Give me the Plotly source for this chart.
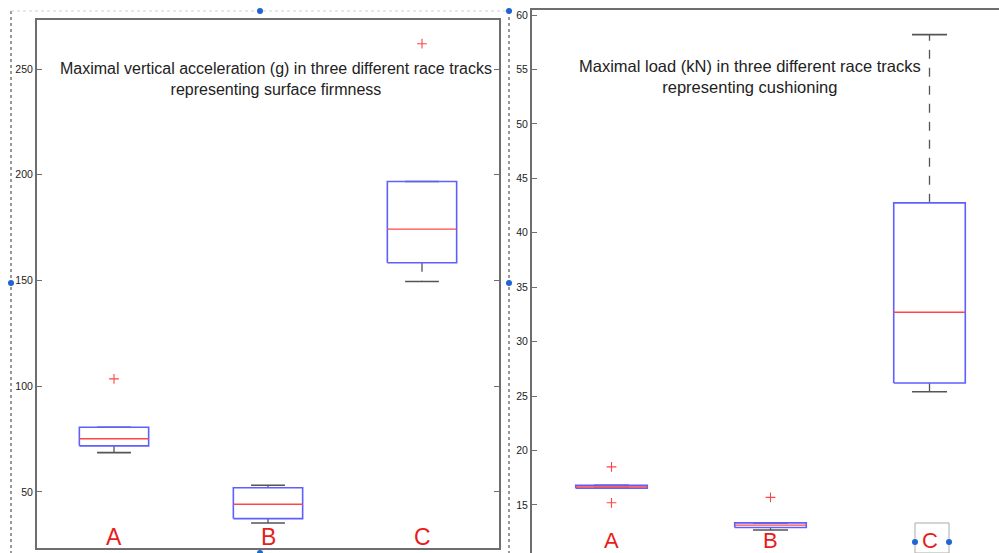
import plotly.graph_objects as go

W, H = 999, 553

# ---------------- data ----------------
categories = ["A", "B", "C"]

# Panel 1: maximal vertical acceleration (g)
acc_q1 = [71.8, 37.4, 158.4]
acc_median = [75.2, 44.2, 174.3]
acc_q3 = [80.6, 52.0, 196.8]
acc_whisker_low = [68.6, 35.3, 149.5]
acc_whisker_high = [80.6, 53.2, 196.8]
acc_outlier_cat = ["A", "C"]
acc_outlier_val = [103.5, 262.0]
acc_ticks = [50, 100, 150, 200, 250]
acc_title = "Maximal vertical acceleration (g) in three different race tracks<br>representing surface firmness"

# Panel 2: maximal load (kN)
load_q1 = [16.53, 12.93, 26.2]
load_median = [16.65, 13.15, 32.7]
load_q3 = [16.8, 13.36, 42.75]
load_whisker_low = [16.53, 12.7, 25.4]
load_whisker_high = [16.8, 13.36, 58.2]
load_outlier_cat = ["A", "A", "B"]
load_outlier_val = [18.5, 15.2, 15.7]
load_ticks = [15, 20, 25, 30, 35, 40, 45, 50, 55, 60]
load_title = "Maximal load (kN) in three different race tracks<br>representing cushioning"

# ---------------- style ----------------
BOX_HALF = 0.225
CAP_HALF = 0.11
BLUE = "rgb(95,95,255)"
RED = "rgb(255,70,70)"
WHISK = "rgb(85,85,85)"
FRAME = "rgb(110,110,110)"
LABEL_RED = "rgb(232,28,28)"
FONT = "Liberation Sans, Arial, sans-serif"


def box_traces(q1, med, q3, lo, hi, out_cat, out_val, xa, ya):
    pos = {c: i + 1 for i, c in enumerate(categories)}
    bx, by, mx, my, wx, wy, cx, cy = [], [], [], [], [], [], [], []
    for i, c in enumerate(categories):
        p = pos[c]
        bx += [p - BOX_HALF, p + BOX_HALF, p + BOX_HALF, p - BOX_HALF, p - BOX_HALF, None]
        by += [q1[i], q1[i], q3[i], q3[i], q1[i], None]
        mx += [p - BOX_HALF, p + BOX_HALF, None]
        my += [med[i], med[i], None]
        wx += [p, p, None, p, p, None]
        wy += [q1[i], lo[i], None, q3[i], hi[i], None]
        cx += [p - CAP_HALF, p + CAP_HALF, None, p - CAP_HALF, p + CAP_HALF, None]
        cy += [lo[i], lo[i], None, hi[i], hi[i], None]
    tr = [
        go.Scatter(x=wx, y=wy, mode="lines", line=dict(color=WHISK, width=1.3, dash="dash"),
                   xaxis=xa, yaxis=ya, hoverinfo="skip"),
        go.Scatter(x=cx, y=cy, mode="lines", line=dict(color=WHISK, width=1.6),
                   xaxis=xa, yaxis=ya, hoverinfo="skip"),
        go.Scatter(x=bx, y=by, mode="lines", line=dict(color=BLUE, width=1.6),
                   xaxis=xa, yaxis=ya, hoverinfo="skip"),
        go.Scatter(x=mx, y=my, mode="lines", line=dict(color=RED, width=1.4),
                   xaxis=xa, yaxis=ya, hoverinfo="skip"),
        go.Scatter(x=[pos[c] for c in out_cat], y=out_val, mode="markers",
                   marker=dict(symbol="cross-thin", size=7, line=dict(color=RED, width=1.1)),
                   xaxis=xa, yaxis=ya, hoverinfo="skip"),
    ]
    return tr


fig = go.Figure()
for t in box_traces(acc_q1, acc_median, acc_q3, acc_whisker_low, acc_whisker_high,
                    acc_outlier_cat, acc_outlier_val, "x", "y"):
    fig.add_trace(t)
for t in box_traces(load_q1, load_median, load_q3, load_whisker_low, load_whisker_high,
                    load_outlier_cat, load_outlier_val, "x2", "y2"):
    fig.add_trace(t)

# category letters inside the plots
for i, c in enumerate(categories):
    fig.add_annotation(x=i + 1, y=28.7, xref="x", yref="y", text=c, showarrow=False,
                       font=dict(family=FONT, size=23, color=LABEL_RED), yanchor="middle")
    fig.add_annotation(x=i + 1, y=11.75, xref="x2", yref="y2", text=c, showarrow=False,
                       font=dict(family=FONT, size=22, color=LABEL_RED), yanchor="middle")

# titles inside plots
fig.add_annotation(x=276 / W, y=1 - 78.5 / H, xref="paper", yref="paper", text=acc_title,
                   showarrow=False, xanchor="center", yanchor="middle",
                   font=dict(family=FONT, size=16, color="#222"))
fig.add_annotation(x=749.5 / W, y=1 - 76 / H, xref="paper", yref="paper", text=load_title,
                   showarrow=False, xanchor="center", yanchor="middle",
                   font=dict(family=FONT, size=16.5, color="#222"))

tickfont = dict(family=FONT, size=10.5, color="#222")

fig.update_layout(
    width=W, height=H,
    margin=dict(l=0, r=0, t=0, b=0),
    paper_bgcolor="white", plot_bgcolor="white",
    showlegend=False,
    xaxis=dict(domain=[37 / W, 499 / W], range=[0.5, 3.5], showgrid=False, zeroline=False,
               showticklabels=False, ticks="", showline=True, mirror=True,
               linecolor=FRAME, linewidth=2),
    yaxis=dict(domain=[1 - 548 / H, 1 - 20 / H], range=[23.5, 273.2], showgrid=False,
               zeroline=False, tickvals=acc_ticks, ticks="inside", ticklen=5,
               tickcolor=FRAME, showline=True, mirror="ticks", linecolor=FRAME,
               linewidth=2, tickfont=tickfont),
    xaxis2=dict(domain=[532 / W, 1], range=[0.5, 0.5 + 467 / 159], anchor="y2", side="top",
                showgrid=False, zeroline=False, showticklabels=False, ticks="",
                showline=True, linecolor=FRAME, linewidth=2),
    yaxis2=dict(domain=[0, 1 - 10 / H], range=[10.59, 60.46], anchor="x2", showgrid=False,
                zeroline=False, tickvals=load_ticks, ticks="inside", ticklen=5,
                tickcolor=FRAME, showline=True, linecolor=FRAME, linewidth=2,
                tickfont=tickfont),
)

# selection-frame artefacts of the screenshot
def px(x):
    return x / W


def py(y):
    return 1 - y / H


dotted = dict(color="rgb(120,120,120)", width=1.5, dash="dot")
fig.add_shape(type="line", xref="paper", yref="paper", x0=px(11), x1=px(11), y0=py(11), y1=py(553), line=dotted)
fig.add_shape(type="line", xref="paper", yref="paper", x0=px(509), x1=px(509), y0=py(11), y1=py(553), line=dotted)
fig.add_shape(type="line", xref="paper", yref="paper", x0=px(11), x1=px(509), y0=py(11), y1=py(11),
              line=dict(color="rgb(200,210,225)", width=1, dash="dot"))
fig.add_shape(type="rect", xref="paper", yref="paper", x0=px(915), x1=px(949), y0=py(523), y1=py(553),
              line=dict(color="rgb(170,170,170)", width=1))
for (x, y) in [(11, 283), (260, 11), (509, 283), (509, 11), (260, 553), (915, 542), (949, 542)]:
    fig.add_shape(type="circle", xref="paper", yref="paper", x0=px(x - 3), x1=px(x + 3),
                  y0=py(y - 3), y1=py(y + 3), fillcolor="rgb(30,100,210)", line=dict(width=0))

fig.write_html("out.html", config={"displayModeBar": False},
               post_script="document.body.style.margin='0';document.body.style.overflow='hidden';")
